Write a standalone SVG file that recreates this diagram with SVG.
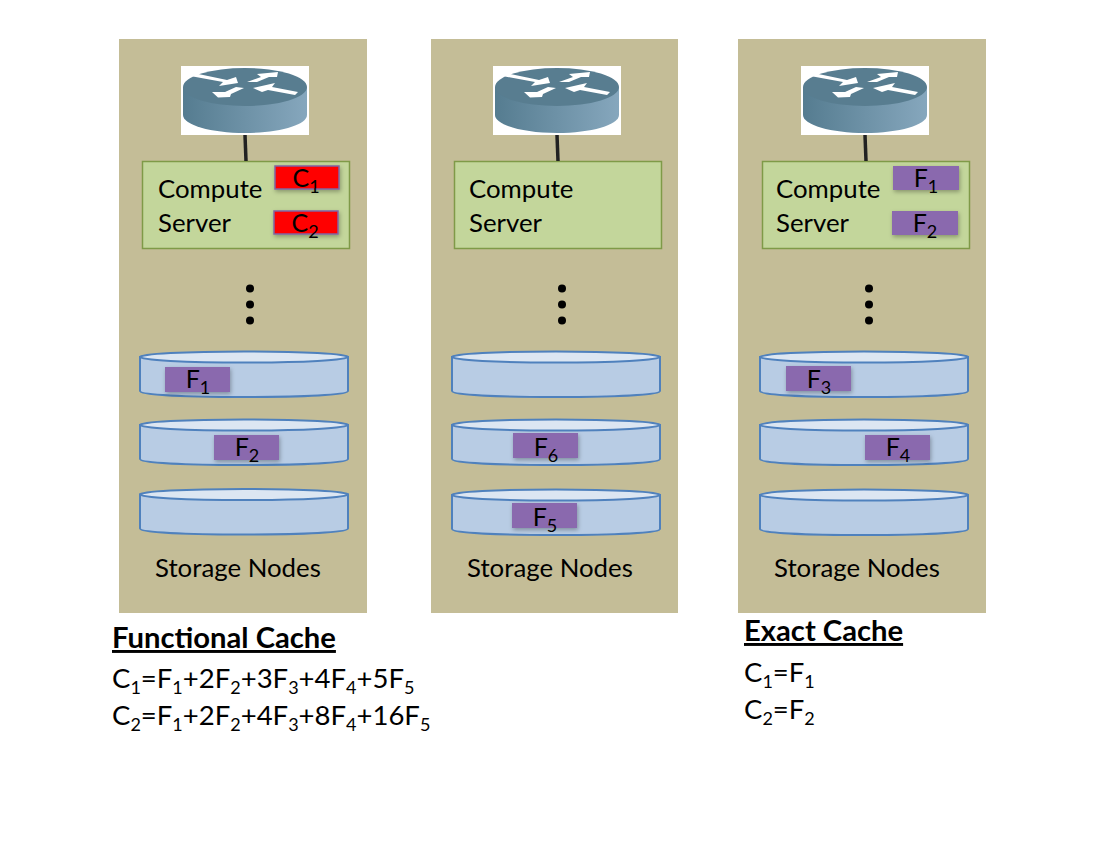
<svg xmlns="http://www.w3.org/2000/svg" width="1100" height="850" viewBox="0 0 1100 850">
  <style>
    text { font-family: Lato, "Open Sans", sans-serif; fill: #000; }
    .panel { fill: #c4bd97; }
    .server { fill: #c3d69b; stroke: #7f9a48; stroke-width: 1.5; }
    .lbl { font-size: 25.8px; }
    .chip { font-size: 25px; text-anchor: middle; }
    .eq { font-size: 27.5px; }
    .head { font-size: 29.2px; font-weight: 700; text-decoration: underline; }
    .sub { font-size: 18px; }
    .red { fill: #ff0000; stroke: #8064a2; stroke-width: 1.5; filter: url(#soft); }
    .purple { fill: #8a69ae; filter: url(#soft); }
    .disk-side { fill: #b8cce4; stroke: #4f81bd; stroke-width: 2; }
    .disk-top { fill: #dce6f2; stroke: #4f81bd; stroke-width: 2; }
    .link { stroke: #222; stroke-width: 3.5; fill: none; }
    .dot { fill: #000; }
  </style>
  <defs>
    <filter id="soft" x="-15%" y="-30%" width="135%" height="170%">
      <feDropShadow dx="1" dy="2" stdDeviation="2" flood-color="#000" flood-opacity="0.3"/>
    </filter>
    <linearGradient id="routerSide" x1="0" x2="1" y1="0" y2="0">
      <stop offset="0" stop-color="#557c90"/>
      <stop offset="1" stop-color="#86a7bd"/>
    </linearGradient>
    <g id="router">
      <rect x="0" y="0" width="128" height="69" fill="#fff"/>
      <path d="M2 21 V49 C2 59 30 67 64 67 C98 67 126 59 126 49 V21 Z" fill="url(#routerSide)"/>
      <ellipse cx="64" cy="21" rx="62" ry="19" fill="#587d90"/>
      <g fill="#fff">
        <path d="M15 7.500 L46 14 L55 11 L57 17 L38 20 L42 16 L12 10.500 Z"/>
        <path d="M66 16 L80 11 L76 8 L97 6 L96 11 L88 11 L76 16 Z"/>
        <path d="M72 22 L94 17 L91 21 L117 26 L114 29 L87 24 L81 26 Z"/>
        <path d="M31 26 L44 26 L55 21 L63 22 L50 28 L49 31 L37 31.500 Z"/>
      </g>
    </g>
    <g id="disk">
      <path class="disk-side" d="M0 6 V40 C0 44 46 46 104 46 C162 46 208 44 208 40 V6 Z"/>
      <ellipse class="disk-top" cx="104" cy="6" rx="104" ry="5.500"/>
    </g>
  </defs>

  <g id="column-functional">
    <rect class="panel" x="119" y="39" width="248" height="574"/>
    <use id="router-1" href="#router" x="181" y="66"/>
    <g id="server-1">
      <rect class="server" x="142.500" y="161.500" width="207" height="87"/>
      <text class="lbl" x="158" y="198">Compute</text>
      <text class="lbl" x="158" y="232">Server</text>
      <rect class="red" x="275" y="166" width="64" height="23"/>
      <text class="chip" x="306" y="187">C<tspan class="sub" dy="6">1</tspan></text>
      <rect class="red" x="274" y="211" width="64" height="23"/>
      <text class="chip" x="305" y="232">C<tspan class="sub" dy="6">2</tspan></text>
    </g>
    <circle class="dot" cx="250" cy="288.500" r="4"/>
    <circle class="dot" cx="250" cy="304.500" r="4"/>
    <circle class="dot" cx="250" cy="320.500" r="4"/>
    <use href="#disk" x="140" y="351"/>
    <use href="#disk" x="140" y="419"/>
    <use href="#disk" x="140" y="488.500"/>
    <rect class="purple" x="165" y="367" width="65" height="25"/>
    <text class="chip" x="198" y="388">F<tspan class="sub" dy="6">1</tspan></text>
    <rect class="purple" x="214" y="435" width="65" height="25"/>
    <text class="chip" x="247" y="456">F<tspan class="sub" dy="6">2</tspan></text>
    <text class="lbl" x="155" y="577">Storage Nodes</text>
  </g>

  <g id="column-plain">
    <rect class="panel" x="431" y="39" width="247" height="574"/>
    <use id="router-2" href="#router" x="493" y="66"/>
    <g id="server-2">
      <rect class="server" x="454.500" y="161.500" width="207" height="87"/>
      <text class="lbl" x="469" y="198">Compute</text>
      <text class="lbl" x="469" y="232">Server</text>
    </g>
    <circle class="dot" cx="562" cy="288.500" r="4"/>
    <circle class="dot" cx="562" cy="304.500" r="4"/>
    <circle class="dot" cx="562" cy="320.500" r="4"/>
    <use href="#disk" x="452" y="351"/>
    <use href="#disk" x="452" y="419"/>
    <use href="#disk" x="452" y="489"/>
    <rect class="purple" x="513" y="433" width="65" height="25"/>
    <text class="chip" x="546" y="456">F<tspan class="sub" dy="6">6</tspan></text>
    <rect class="purple" x="512" y="503" width="65" height="25"/>
    <text class="chip" x="545" y="526">F<tspan class="sub" dy="6">5</tspan></text>
    <text class="lbl" x="467" y="577">Storage Nodes</text>
  </g>

  <g id="column-exact">
    <rect class="panel" x="738" y="39" width="248" height="574"/>
    <use id="router-3" href="#router" x="801" y="66"/>
    <g id="server-3">
      <rect class="server" x="762.500" y="161.500" width="207" height="87"/>
      <text class="lbl" x="776" y="198">Compute</text>
      <text class="lbl" x="776" y="232">Server</text>
      <rect class="purple" x="893" y="166" width="66" height="24"/>
      <text class="chip" x="926" y="187">F<tspan class="sub" dy="6">1</tspan></text>
      <rect class="purple" x="892" y="211" width="66" height="24"/>
      <text class="chip" x="925" y="232">F<tspan class="sub" dy="6">2</tspan></text>
    </g>
    <circle class="dot" cx="869" cy="288.500" r="4"/>
    <circle class="dot" cx="869" cy="304.500" r="4"/>
    <circle class="dot" cx="869" cy="320.500" r="4"/>
    <use href="#disk" x="760" y="351"/>
    <use href="#disk" x="760" y="419"/>
    <use href="#disk" x="760" y="489"/>
    <rect class="purple" x="786" y="366" width="65" height="25"/>
    <text class="chip" x="819" y="388">F<tspan class="sub" dy="6">3</tspan></text>
    <rect class="purple" x="865" y="435" width="65" height="25"/>
    <text class="chip" x="898" y="456">F<tspan class="sub" dy="6">4</tspan></text>
    <text class="lbl" x="774" y="577">Storage Nodes</text>
  </g>

  <!-- Router-to-server uplinks, drawn above the column panels -->
  <g id="connectors">
    <line class="link" x1="245" y1="135" x2="246" y2="161"/>
    <line class="link" x1="557" y1="135" x2="558" y2="161"/>
    <line class="link" x1="865" y1="135" x2="866" y2="161"/>
  </g>

  <g id="legend-functional">
    <text class="head" x="112" y="648">Functional Cache</text>
    <text class="eq" x="112" y="688">C<tspan class="sub" dy="6">1</tspan><tspan dy="-6">=F</tspan><tspan class="sub" dy="6">1</tspan><tspan dy="-6">+2F</tspan><tspan class="sub" dy="6">2</tspan><tspan dy="-6">+3F</tspan><tspan class="sub" dy="6">3</tspan><tspan dy="-6">+4F</tspan><tspan class="sub" dy="6">4</tspan><tspan dy="-6">+5F</tspan><tspan class="sub" dy="6">5</tspan></text>
    <text class="eq" x="112" y="725">C<tspan class="sub" dy="6">2</tspan><tspan dy="-6">=F</tspan><tspan class="sub" dy="6">1</tspan><tspan dy="-6">+2F</tspan><tspan class="sub" dy="6">2</tspan><tspan dy="-6">+4F</tspan><tspan class="sub" dy="6">3</tspan><tspan dy="-6">+8F</tspan><tspan class="sub" dy="6">4</tspan><tspan dy="-6">+16F</tspan><tspan class="sub" dy="6">5</tspan></text>
  </g>

  <g id="legend-exact">
    <text class="head" x="744" y="641">Exact Cache</text>
    <text class="eq" x="744" y="682">C<tspan class="sub" dy="6">1</tspan><tspan dy="-6">=F</tspan><tspan class="sub" dy="6">1</tspan></text>
    <text class="eq" x="744" y="719">C<tspan class="sub" dy="6">2</tspan><tspan dy="-6">=F</tspan><tspan class="sub" dy="6">2</tspan></text>
  </g>
</svg>
